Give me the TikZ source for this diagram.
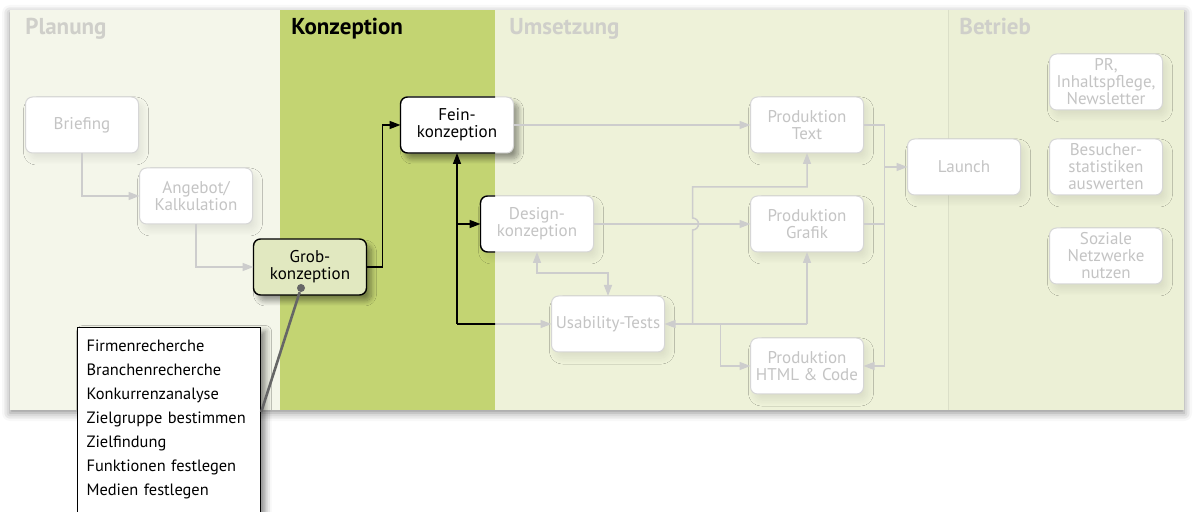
\documentclass[tikz,border=0pt]{standalone}
\usepackage{fontspec}
\setmainfont{PT Sans}
\usetikzlibrary{positioning, calc, arrows.meta, shadows.blur}

\definecolor{planungbg}{HTML}{F4F6EA}
\definecolor{konzeptbg}{HTML}{C3D472}
\definecolor{umsetzbg}{HTML}{EEF2D9}
\definecolor{betriebbg}{HTML}{ECF0D6}
\definecolor{grobfill}{HTML}{E1E8C0}
\definecolor{linegrey}{HTML}{CDCDCD}
\definecolor{boxgrey}{HTML}{D6D6D6}
\definecolor{textgrey}{HTML}{C4C4C4}
\definecolor{headgrey}{HTML}{CFCFCA}

\tikzset{
  phase/.style={anchor=base west, inner sep=0pt, font=\bfseries\fontsize{11.5}{13}\selectfont, text=headgrey},
  box/.style={rectangle, rounded corners=3.5pt, draw=boxgrey, line width=0.5pt, fill=white,
    text=textgrey, minimum width=56.5pt, minimum height=28pt, inner sep=1pt, outer sep=0pt,
    align=center, font=\fontsize{8.5}{8.5}\selectfont},
  softshadow/.style={blur shadow={shadow xshift=2pt, shadow yshift=-3pt, shadow blur radius=3pt, shadow blur steps=12, shadow opacity=8}},
  hardshadow/.style={blur shadow={shadow xshift=2.5pt, shadow yshift=-3pt, shadow blur radius=2.5pt, shadow blur steps=12, shadow opacity=40}},
  task/.style={box, softshadow},
  taskon/.style={box, draw=black, line width=0.7pt, text=black, hardshadow},
  flow/.style={draw=linegrey, line width=0.75pt, -{Triangle[length=5.5pt, width=4pt]}},
  flowon/.style={flow, draw=black},
  liste/.style={draw=black, line width=0.6pt, fill=white, align=left, anchor=north west,
    text width=82.5pt, inner xsep=4.5pt, inner ysep=6pt, text depth=88pt,
    font=\fontsize{8.2}{12}\selectfont,
    blur shadow={shadow xshift=2.5pt, shadow yshift=-2pt, shadow blur radius=3pt, shadow opacity=45}}
}

\begin{document}
\begin{tikzpicture}[x=0.5pt, y=-0.5pt]
	\useasboundingbox (0,0) rectangle (1195,512);
	\clip (0,0) rectangle (1195,512);

	% phases
	\path[fill=white, blur shadow={shadow xshift=0pt, shadow yshift=-1.5pt, shadow blur radius=4pt, shadow opacity=45}] (10,10) rectangle (1184,410);
	\fill[planungbg] (10,10) rectangle (280,410);
	\fill[konzeptbg] (280,10) rectangle (495,410);
	\fill[umsetzbg] (495,10) rectangle (948,410);
	\fill[betriebbg] (948,10) rectangle (1184,410);
	\draw[umsetzbg!92!black, line width=0.5pt] (948,10) -- (948,410);
	\node[phase] (planung) at (25,35) {Planung};
	\node[phase, text=black] (konzeption) at (291,35) {Konzeption};
	\node[phase] (umsetzung) at (509,35) {Umsetzung};
	\node[phase] (betrieb) at (959,35) {Betrieb};

	% steps
	\node[task] (briefing) at (82,125) {Briefing};
	\node[task] (angebot) at (196,196) {Angebot/\\Kalkulation};
	\node[taskon, fill=grobfill] (grob) at (310,267) {Grob-\\konzeption};
	\node[box, text=black, hardshadow] (fein) at (457,125) {Fein-\\konzeption};
	\node[task] (design) at (537,224) {Design-\\konzeption};
	\node[task] (usability) at (608,324) {Usability-Tests};
	\node[task] (ptext) at (807,125) {Produktion\\Text};
	\node[task] (pgrafik) at (807,224) {Produktion\\Grafik};
	\node[task] (phtml) at (807,366) {Produktion\\HTML \& Code};
	\node[task] (launch) at (964,167) {Launch};
	\node[task] (pr) at (1106,82) {PR,\\Inhaltspflege,\\Newsletter};
	\node[task] (besucher) at (1106,167) {Besucher-\\statistiken\\auswerten};
	\node[task] (sozial) at (1106,256) {Soziale\\Netzwerke\\nutzen};

	% links
	\coordinate (knoten) at (fein.south |- usability.west);
	\coordinate (abzw1) at ($(usability.east)+(28,0)$);
	\coordinate (abzw2) at ($(usability.east)+(56,0)$);
	\coordinate (sammel) at ($(ptext.east)+(21,0)$);
	\draw[flow] (briefing.south) |- (angebot.west);
	\draw[flow] (angebot.south) |- (grob.west);
	\draw[flowon] (grob.east) -- ++(16,0) |- (fein.west);
	\draw[flowon] (knoten) -- (fein.south);
	\draw[flowon] (fein.south |- design.west) -- (design.west);
	\draw[flow] (knoten) -- (usability.west);
	\draw[flow] (fein.east) -- (ptext.west);
	\draw[flow] (design.east) -- (pgrafik.west);
	\draw[flow, {Triangle[length=5.5pt, width=4pt]}-{Triangle[length=5.5pt, width=4pt]}] (design.south) -- ++(0,21) -| (usability.north);
	\draw[flow] (pgrafik.south |- usability.east) -- (usability.east);
	\draw[flow] (pgrafik.south |- usability.east) -- (pgrafik.south);
	\draw[flow] (abzw1) -- ($(abzw1 |- design.east)+(0,6)$) arc[start angle=-90, end angle=90, radius=3pt] -- ++(0,-31) -| (ptext.south);
	\draw[flow] (abzw2) |- (phtml.west);
	\draw[flow, -] (ptext.east) -| (sammel |- phtml.east);
	\draw[flow] (sammel |- phtml.east) -- (phtml.east);
	\draw[flow, -] (pgrafik.east) -- (pgrafik.east -| sammel);
	\draw[flow] (sammel |- launch.west) -- (launch.west);

	% highlight inside Konzeption
	\begin{scope}
		\clip (280,10) rectangle (495,410);
		\draw[black, line width=0.7pt, rounded corners=3.5pt] (fein.south west) rectangle (fein.north east);
		\draw[black, line width=0.7pt, rounded corners=3.5pt] (design.south west) rectangle (design.north east);
		\draw[flowon, -] (knoten) -- (usability.west);
	\end{scope}

	% callout
	\node[liste] (liste) at (77,327) {Firmenrecherche\\Branchenrecherche\\Konkurrenzanalyse\\Zielgruppe bestimmen\\Zielfindung\\Funktionen festlegen\\Medien festlegen};
	\node[circle, fill=black!60, inner sep=0pt, minimum size=4pt] (punkt) at (301,288) {};
	\coordinate (zeigerende) at ($(liste.north east)+(0,85)$);
	\draw[black!60, line width=1.3pt] (punkt) -- (zeigerende);
\end{tikzpicture}
\end{document}
